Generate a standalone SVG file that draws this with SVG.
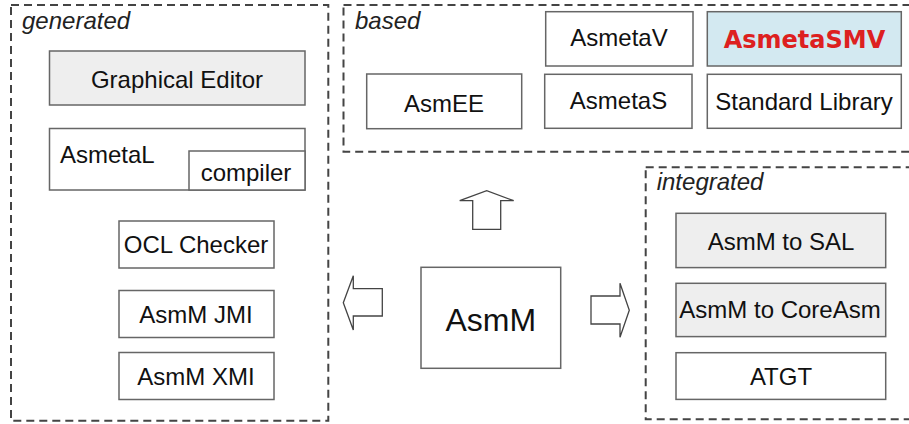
<svg xmlns="http://www.w3.org/2000/svg" width="909" height="424" viewBox="0 0 909 424">
<style>
.bg{fill:#ffffff}
.grp{fill:none;stroke:#444444;stroke-width:2;stroke-dasharray:8,5}
.box{fill:#ffffff;stroke:#666666;stroke-width:1.5}
.gray{fill:#eeeeee}
.blue{fill:#d3e9f1}
.t{font-family:"Liberation Sans",Arial,sans-serif;font-size:24px;fill:#111111;text-anchor:middle}
.lbl{font-family:"Liberation Sans",Arial,sans-serif;font-size:24px;font-style:italic;fill:#222222}
.red{font-family:"DejaVu Sans",Verdana,sans-serif;font-size:24px;font-weight:bold;fill:#dd2020;text-anchor:middle}
.arr{fill:#ffffff;stroke:#444444;stroke-width:1.3;stroke-linejoin:miter}
</style>
<rect class="bg" x="0" y="0" width="909" height="424"/>

<g id="generated">
  <rect class="grp" x="11" y="5" width="317.3" height="415.7"/>
  <text class="lbl" x="22" y="28.5">generated</text>
  <g id="graphical-editor">
    <rect class="box gray" x="49.5" y="51" width="255.5" height="54"/>
    <text class="t" x="177" y="87.5">Graphical Editor</text>
  </g>
  <g id="asmetal">
    <rect class="box" x="49.5" y="128.5" width="255.5" height="61.5"/>
    <text class="t" x="60" y="163" style="text-anchor:start">AsmetaL</text>
    <g id="compiler">
      <rect class="box" x="189" y="151" width="116" height="39"/>
      <text class="t" x="246" y="180.5">compiler</text>
    </g>
  </g>
  <g id="ocl-checker">
    <rect class="box" x="119" y="221" width="155" height="47"/>
    <text class="t" x="196" y="253">OCL Checker</text>
  </g>
  <g id="asmm-jmi">
    <rect class="box" x="119" y="290.5" width="155" height="47"/>
    <text class="t" x="196" y="322.7">AsmM JMI</text>
  </g>
  <g id="asmm-xmi">
    <rect class="box" x="119" y="352.5" width="155" height="47"/>
    <text class="t" x="196" y="385.3">AsmM XMI</text>
  </g>
</g>

<g id="based">
  <rect class="grp" x="343.5" y="5" width="580" height="146.7"/>
  <text class="lbl" x="355" y="28.5">based</text>
  <g id="asmee">
    <rect class="box" x="366.7" y="74" width="155" height="54.7"/>
    <text class="t" x="444" y="111.7">AsmEE</text>
  </g>
  <g id="asmetav">
    <rect class="box" x="545.7" y="11.7" width="147.3" height="54.3"/>
    <text class="t" x="619" y="45.7">AsmetaV</text>
  </g>
  <g id="asmetas">
    <rect class="box" x="544.7" y="74.3" width="147.3" height="54"/>
    <text class="t" x="618.5" y="109">AsmetaS</text>
  </g>
  <g id="asmetasmv">
    <rect class="box blue" x="707.3" y="11.7" width="194" height="54.3"/>
    <text class="red" x="804.5" y="48.3">AsmetaSMV</text>
  </g>
  <g id="standard-library">
    <rect class="box" x="707.3" y="74.3" width="194" height="54"/>
    <text class="t" x="804" y="110">Standard Library</text>
  </g>
</g>

<g id="integrated">
  <rect class="grp" x="645.7" y="167.3" width="280" height="252"/>
  <text class="lbl" x="656.7" y="190">integrated</text>
  <g id="asmm-to-sal">
    <rect class="box gray" x="676" y="213.3" width="209.7" height="54.3"/>
    <text class="t" x="781" y="250">AsmM to SAL</text>
  </g>
  <g id="asmm-to-coreasm">
    <rect class="box gray" x="676" y="283.3" width="209.7" height="53.3"/>
    <text class="t" x="780" y="318.3">AsmM to CoreAsm</text>
  </g>
  <g id="atgt">
    <rect class="box" x="676" y="352.7" width="209.7" height="46.7"/>
    <text class="t" x="781" y="385">ATGT</text>
  </g>
</g>

<g id="asmm">
  <rect class="box" x="421" y="267.3" width="139.7" height="101"/>
  <text class="t" x="490.8" y="330.7" style="font-size:32px">AsmM</text>
</g>

<g id="connectors">
  <path class="arr" d="M472.7,229.3 L472.7,200.7 L459.7,200.7 L486.7,190.7 L513.7,200.7 L500.7,200.7 L500.7,229.3 Z"/>
  <path class="arr" d="M382.3,288.7 L353.3,288.7 L353.3,275.7 L343.3,302.7 L353.3,330 L353.3,316 L382.3,316 Z"/>
  <path class="arr" d="M591,296 L620,296 L620,283.3 L629.3,310.3 L620,337.3 L620,324 L591,324 Z"/>
</g>
</svg>
